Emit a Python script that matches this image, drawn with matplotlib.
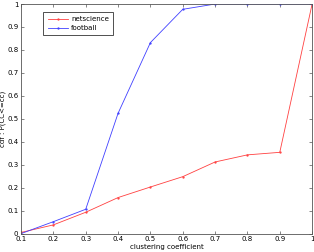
import matplotlib
matplotlib.use("Agg")
import matplotlib.pyplot as plt

cc = [0.1, 0.2, 0.3, 0.4, 0.5, 0.6, 0.7, 0.8, 0.9, 1.0]
netscience = [0.005, 0.038, 0.093, 0.157, 0.203, 0.248, 0.312, 0.343, 0.354, 1.0]
football = [0.0, 0.052, 0.106, 0.524, 0.832, 0.977, 1.0, 1.0, 1.0, 1.0]
xticks = [0.1, 0.2, 0.3, 0.4, 0.5, 0.6, 0.7, 0.8, 0.9, 1]
yticks = [0, 0.1, 0.2, 0.3, 0.4, 0.5, 0.6, 0.7, 0.8, 0.9, 1]

fig = plt.figure(figsize=(3.14, 2.52), dpi=100)
ax = fig.add_axes([0.067, 0.073, 0.927, 0.911])

ax.plot(cc, netscience, color='#ff4040', marker='.', markersize=1.3, linewidth=0.6, label='netscience')
ax.plot(cc, football, color='#4040ff', marker='.', markersize=1.3, linewidth=0.6, label='football')

ax.set_xlim(0.1, 1)
ax.set_ylim(0, 1)
ax.set_xticks(xticks)
ax.set_xticklabels(['0.1', '0.2', '0.3', '0.4', '0.5', '0.6', '0.7', '0.8', '0.9', '1'])
ax.set_yticks(yticks)
ax.set_yticklabels(['0', '0.1', '0.2', '0.3', '0.4', '0.5', '0.6', '0.7', '0.8', '0.9', '1'])
ax.tick_params(direction='in', length=2, width=0.5, labelsize=5, top=True, right=True, pad=2, color='#555555')
for s in ax.spines.values():
    s.set_linewidth(0.6)
    s.set_color('#555555')

ax.set_xlabel('clustering coefficient', fontsize=5, labelpad=1)
ax.set_ylabel('cdf : P(CC<=cc)', fontsize=5, labelpad=1)

leg = ax.legend(loc='upper left', bbox_to_anchor=(0.065, 0.98), fontsize=5,
                frameon=True, fancybox=False, handlelength=3, borderpad=0.6,
                labelspacing=0.4, handletextpad=0.4)
leg.get_frame().set_edgecolor('black')
leg.get_frame().set_linewidth(0.6)

fig.savefig('out.png', dpi=100)
